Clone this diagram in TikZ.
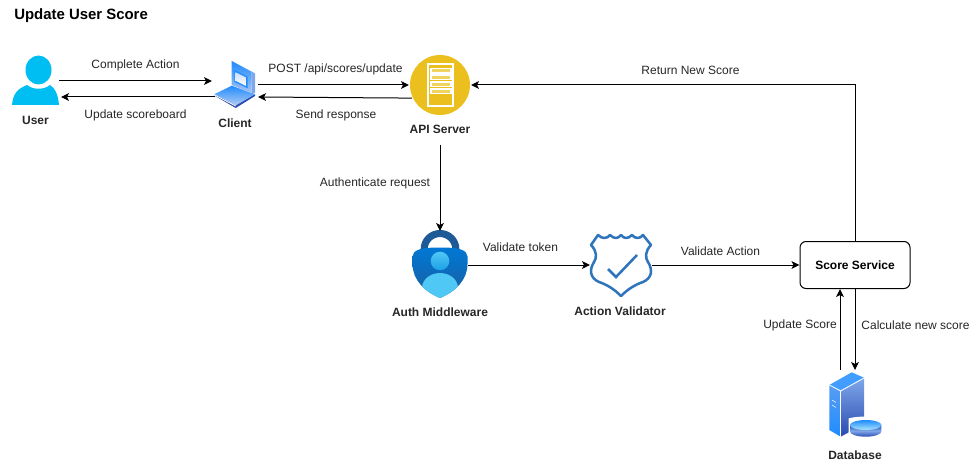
\documentclass[tikz,border=0pt]{standalone}
\usepackage{fontspec}
\setmainfont{Liberation Sans}
\usetikzlibrary{shapes.geometric, arrows.meta, calc}
\definecolor{userblue}{HTML}{00BEF2}
\definecolor{apigold}{HTML}{EBC01E}
\definecolor{shieldblue}{HTML}{2F75BB}
\definecolor{lockdark}{HTML}{1E5A96}
\definecolor{locktop}{HTML}{0078D4}
\definecolor{lockbottom}{HTML}{1B5E9F}
\definecolor{skytop}{HTML}{50C8F5}
\definecolor{skybottom}{HTML}{1EA0E6}
\definecolor{deepblue}{HTML}{2A4BB0}
\definecolor{paleblue}{HTML}{7FA8EA}
\definecolor{brightblue}{HTML}{1F8CFF}
\tikzstyle{icon} = [rectangle, inner sep=0pt, outer sep=0pt]
\tikzstyle{lbl} = [font=\fontsize{9}{11}\selectfont, text=black!85, inner sep=0pt]
\tikzstyle{iconlabel} = [font=\fontsize{9}{11}\selectfont\bfseries, text=black!85, inner sep=0pt]
\tikzstyle{process} = [rectangle, rounded corners=4.5pt, minimum width=82.5pt,
minimum height=35.25pt, inner sep=0pt, text centered, draw=black, line width=0.75pt]
\tikzstyle{arrow} = [line width=0.75pt, -{Stealth[length=6pt,width=5.8pt,inset=1.5pt]}]

\begin{document}
\begin{tikzpicture}[x=0.75pt, y=-0.75pt]
\useasboundingbox (0,0) rectangle (980,470);

\node (title) [anchor=west, inner sep=0pt, font=\fontsize{11.2}{13}\selectfont\bfseries] at (14,16)
{Update User Score};

%-------User-------------------
\node (user) [icon, minimum width=35.25pt, minimum height=36pt] at (35.5,81) {};
\fill [userblue] (38.5,70) ellipse (13 and 14.5);
\fill [userblue] (12,105) .. controls (13,94) and (17,89) .. (27,85)
.. controls (33,90) and (44,90) .. (50,85)
.. controls (55,88) and (58,94) .. (59,105) -- cycle;
\node (userlabel) [iconlabel] at (35.5,120) {User};

%-------Client-------------------
\node (client) [icon, minimum width=34.5pt, minimum height=35.25pt] at (235,85) {};
\fill [paleblue] (231.7,61) -- (255,73.3) -- (255,93) -- (251.7,94) -- (251.7,72) -- cycle;
\shade [top color=brightblue, bottom color=paleblue!70!white]
(231.7,61) -- (251.7,72) -- (251.7,93) -- (231.7,85) -- cycle;
\fill [brightblue] (234.3,70) -- (247.7,76.7) -- (247.7,88.3) -- (234.3,81.7) -- cycle;
\shade [top color=paleblue!40!white, bottom color=white]
(235.6,72.2) -- (246.4,77.6) -- (246.4,86.2) -- (235.6,80.8) -- cycle;
\fill [deepblue] (214.3,95.5) -- (235.7,108) -- (255,96) -- (255,94.3) -- cycle;
\shade [top color=brightblue, bottom color=paleblue!60!white]
(214.3,94.3) -- (231.7,85.7) -- (255,94.3) -- (235.7,105.5) -- cycle;
\draw [white, line width=0.6pt] (214.3,94.8) -- (235.7,106);
\node (clientlabel) [iconlabel] at (235,123) {Client};

%-------API server-------------------
\node (api) [circle, fill=apigold, minimum size=45pt, inner sep=0pt, outer sep=0.75pt] at (440,85) {};
\draw [white, line width=0.8pt] (428,64) rectangle (453,106);
\foreach \y in {68.5,75,82,89} {
    \draw [white, line width=0.8pt, fill=apigold!70!white] (431,\y) rectangle (451,\y+4.5);
}
\node (apilabel) [iconlabel] at (440,129) {API Server};

%-------Auth middleware-------------------
\node (auth) [icon, minimum width=42pt, minimum height=51pt] at (440,265) {};
\draw [lockdark, line width=5.3pt] (424.2,256) -- (424.2,249) arc (180:360:15.8 and 15.5) -- (455.8,256);
\shade [top color=locktop, bottom color=lockbottom]
(440,298) .. controls (425,292) and (412.5,280) .. (412.5,264)
-- (412.5,256.5) .. controls (413,250) and (420,247.5) .. (440,247.5)
.. controls (460,247.5) and (467,250) .. (467.5,256.5) -- (467.5,264)
.. controls (467.5,280) and (455,292) .. (440,298) -- cycle;
\begin{scope}
\clip (440,298) .. controls (425,292) and (412.5,280) .. (412.5,264)
-- (467.5,264) .. controls (467.5,280) and (455,292) .. (440,298) -- cycle;
\shade [top color=skytop, bottom color=skytop] (440,288) ellipse (18 and 15);
\end{scope}
\shade [top color=skytop, bottom color=skybottom] (440,261) circle (9.3);
\node (authlabel) [iconlabel] at (440,312) {Auth Middleware};

%-------Action validator-------------------
\node (validator) [icon, minimum width=46.5pt, minimum height=47.25pt] at (621,265) {};
\draw [shieldblue, line width=1.9pt, line join=round]
(598,235) .. controls (602,239) and (607,239) .. (610,235)
.. controls (614,239) and (618,239) .. (621,235)
.. controls (624,239) and (628,239) .. (632,235)
.. controls (635,239) and (640,239) .. (643,235)
-- (651,245) .. controls (645,251) and (645,258) .. (648,262)
.. controls (653,270) and (652,278) .. (643,282)
.. controls (634,285) and (627,290) .. (621,296)
.. controls (615,290) and (608,285) .. (599,282)
.. controls (590,278) and (589,270) .. (594,262)
.. controls (597,258) and (597,251) .. (591,245) -- cycle;
\draw [shieldblue, line width=1.9pt] (608,269) -- (616,277) -- (637,255);
\node (validatorlabel) [iconlabel] at (620,311) {Action Validator};

%-------Score service-------------------
\node (score) [process, font=\fontsize{9}{11}\selectfont\bfseries] at (855,265) {Score Service};

%-------Database-------------------
\node (db) [icon, minimum width=39.75pt, minimum height=50.25pt] at (855,403.5) {};
\shade [top color=paleblue, bottom color=deepblue]
(840.7,390) -- (864,377.7) -- (864,424) -- (840.7,436.7) -- cycle;
\shade [top color=paleblue!60!brightblue, bottom color=brightblue]
(829.3,385) -- (840.7,390) -- (840.7,436.7) -- (829.3,430) -- cycle;
\fill [brightblue!85!white] (829.3,385) -- (851.7,372.3) -- (864,377.7) -- (840.7,390) -- cycle;
\draw [white, line width=0.6pt] (829.3,385) -- (840.7,391) -- (864,378);
\draw [white, line width=0.5pt] (840.7,391) -- (840.7,436.7);
\draw [white, line width=0.4pt] (832,400) -- (836,402.5) (832,405) -- (836,407.5);
\fill [white] (848.5,418.5) .. controls (855,416) and (875,416) .. (882.5,418.5) -- (882.5,438) -- (848.5,438) -- cycle;
\shade [top color=deepblue, bottom color=deepblue, middle color=paleblue]
(850,425) -- (850,431.5) arc (180:0:15.7 and 5.2) -- (881.4,425) -- cycle;
\shade [top color=brightblue, bottom color=skytop!50!white] (865.7,425) ellipse (15.7 and 5);
\node (dblabel) [iconlabel] at (855,455) {Database};

%-------connector labels-------------------
\node (l1) [lbl] at (135.5,65) {Complete Action};
\node (l2) [lbl] at (135.5,115) {Update scoreboard};
\node (l3) [lbl] at (335.5,69) {POST /api/scores/update};
\node (l4) [lbl] at (336,115) {Send response};
\node (l5) [lbl] at (375,183) {Authenticate request};
\node (l6) [lbl] at (520.5,247.5) {Validate token};
\node (l7) [lbl] at (720.5,251) {Validate Action};
\node (l8) [lbl] at (690.5,70) {Return New Score};
\node (l9) [lbl] at (800,325) {Update Score};
\node (l10) [lbl] at (915.5,325) {Calculate new score};

%-------arrows-------------------
\draw [arrow] (user.east) -- ($(client.west)+(0,-4)$);
\draw [arrow] ($(client.west)+(3,12)$) -- ($(user.east)+(2,16)$);
\draw [arrow] (client.east) -- (api.west);
\draw [arrow] (api.205) -- ($(client.east)+(0,12)$);
\draw [arrow] ($(apilabel.south)+(0,11)$) -- (auth.north);
\draw [arrow] (auth.east) -- (validator.west);
\draw [arrow] (validator.east) -- (score.west);
\draw [arrow] (score.north) -- (score.north |- api.east) -- (api.east);
\draw [arrow] (score.south) -- (db.north);
\draw [arrow] ($(db.north)+(-15,0)$) -- ($(score.south)+(-15,0)$);

\end{tikzpicture}
\end{document}
